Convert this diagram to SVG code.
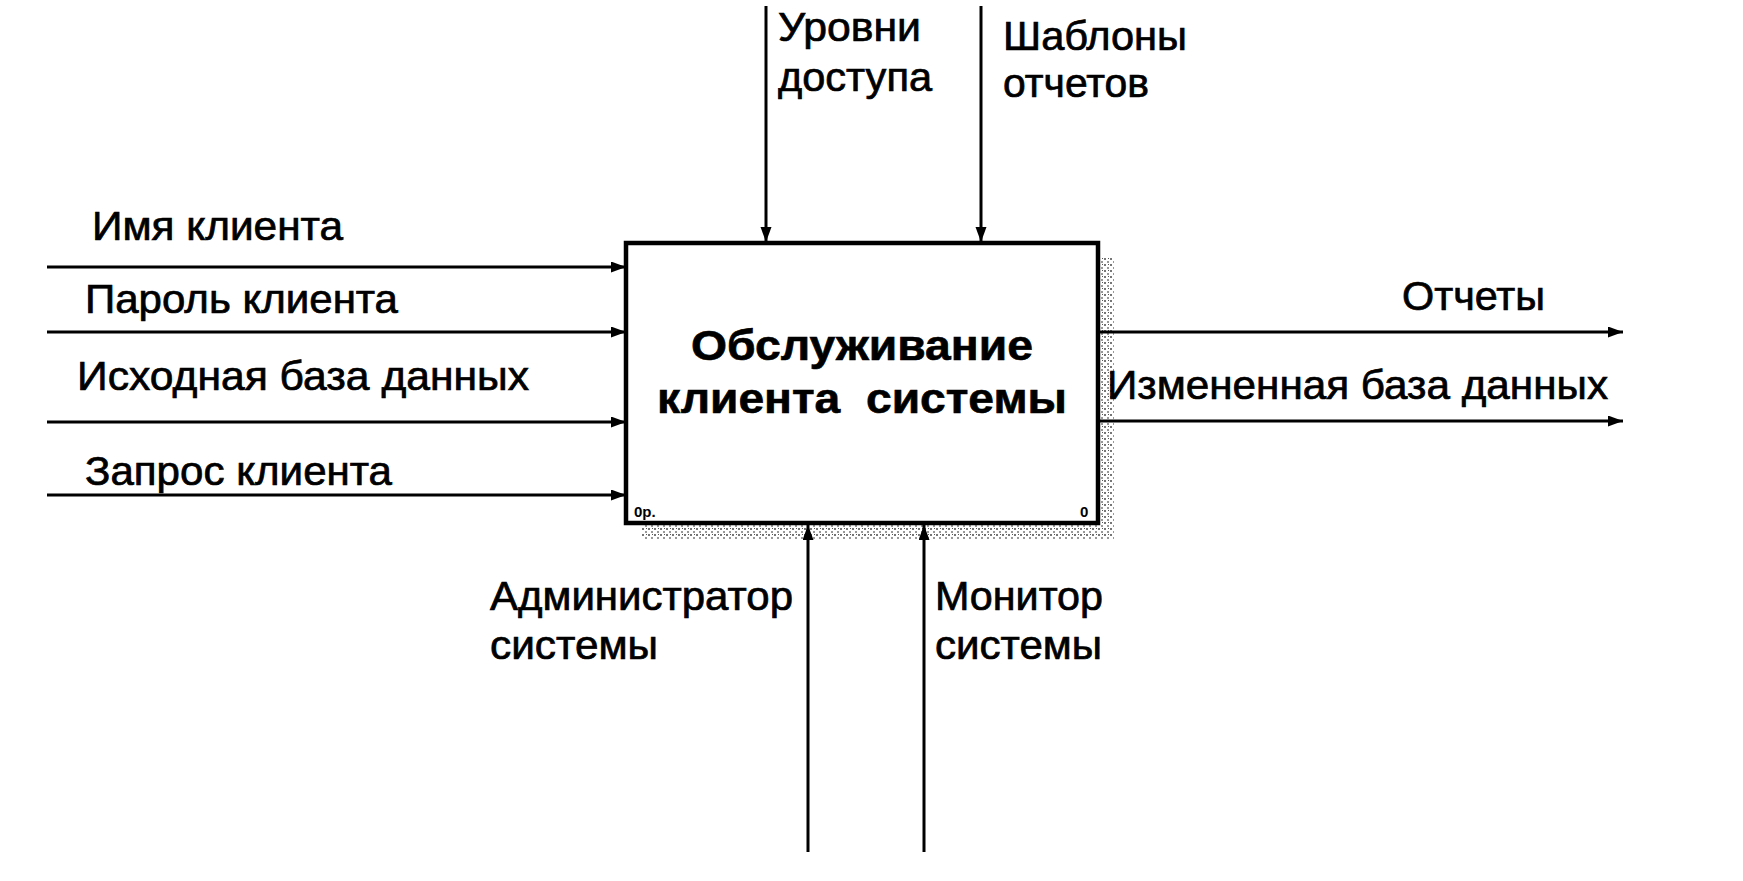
<svg xmlns="http://www.w3.org/2000/svg" width="1743" height="881" viewBox="0 0 1743 881">
<style>
.lbl{font-family:"Liberation Sans",Arial,sans-serif;font-size:40px;fill:#000;stroke:#000;stroke-width:0.7px;}
.title{font-family:"Liberation Sans",Arial,sans-serif;font-size:42px;font-weight:bold;fill:#000;stroke:#000;stroke-width:0.6px;}
.small{font-family:"Liberation Sans",Arial,sans-serif;font-size:15px;font-weight:bold;fill:#000;}
.arc{stroke:#000;stroke-width:3;fill:none;marker-end:url(#ah);}
</style>
<defs>
<marker id="ah" markerUnits="userSpaceOnUse" markerWidth="16" markerHeight="12" refX="15" refY="5.5" orient="auto">
<path d="M0,0 L15,5.5 L0,11 z" fill="#000"/>
</marker>
<pattern id="speck" width="6" height="6" patternUnits="userSpaceOnUse">
<rect x="0" y="0" width="2" height="2" fill="#777"/>
<rect x="3" y="3" width="2" height="2" fill="#999"/>
<rect x="4" y="0" width="1" height="1" fill="#555"/>
</pattern>
</defs>
<rect width="1743" height="881" fill="#fff"/>
<g id="node-main">
<rect x="641" y="257" width="473" height="282" fill="url(#speck)"/>
<rect x="626" y="243" width="472" height="280" fill="#fff" stroke="#000" stroke-width="4.5"/>
<text class="title" x="862" y="360" text-anchor="middle" textLength="342" lengthAdjust="spacingAndGlyphs">Обслуживание</text>
<text class="title" x="862" y="413" text-anchor="middle" textLength="410" lengthAdjust="spacingAndGlyphs" xml:space="preserve">клиента  системы</text>
<text class="small" x="634" y="517">0р.</text>
<text class="small" x="1080" y="517">0</text>
</g>
<g id="connectors">
<line class="arc" x1="47" y1="267" x2="626" y2="267"/>
<line class="arc" x1="47" y1="332" x2="626" y2="332"/>
<line class="arc" x1="47" y1="422" x2="626" y2="422"/>
<line class="arc" x1="47" y1="495" x2="626" y2="495"/>
<line class="arc" x1="766" y1="6" x2="766" y2="242"/>
<line class="arc" x1="981" y1="6" x2="981" y2="242"/>
<line class="arc" x1="1100" y1="332" x2="1623" y2="332"/>
<line class="arc" x1="1100" y1="421" x2="1623" y2="421"/>
<line class="arc" x1="808" y1="852" x2="808" y2="525"/>
<line class="arc" x1="924" y1="852" x2="924" y2="525"/>
</g>
<g id="labels">
<text class="lbl" x="92" y="240" textLength="251" lengthAdjust="spacingAndGlyphs">Имя клиента</text>
<text class="lbl" x="85" y="313" textLength="313" lengthAdjust="spacingAndGlyphs">Пароль клиента</text>
<text class="lbl" x="77" y="390" textLength="452" lengthAdjust="spacingAndGlyphs">Исходная база данных</text>
<text class="lbl" x="85" y="485" textLength="307" lengthAdjust="spacingAndGlyphs">Запрос клиента</text>
<text class="lbl" x="778" y="41" textLength="143" lengthAdjust="spacingAndGlyphs">Уровни</text>
<text class="lbl" x="778" y="91" textLength="154" lengthAdjust="spacingAndGlyphs">доступа</text>
<text class="lbl" x="1003" y="50" textLength="184" lengthAdjust="spacingAndGlyphs">Шаблоны</text>
<text class="lbl" x="1003" y="97" textLength="146" lengthAdjust="spacingAndGlyphs">отчетов</text>
<text class="lbl" x="1402" y="310" textLength="143" lengthAdjust="spacingAndGlyphs">Отчеты</text>
<text class="lbl" x="1107" y="399" textLength="501" lengthAdjust="spacingAndGlyphs">Измененная база данных</text>
<text class="lbl" x="490" y="610" textLength="303" lengthAdjust="spacingAndGlyphs">Администратор</text>
<text class="lbl" x="490" y="659" textLength="168" lengthAdjust="spacingAndGlyphs">системы</text>
<text class="lbl" x="935" y="610" textLength="168" lengthAdjust="spacingAndGlyphs">Монитор</text>
<text class="lbl" x="935" y="659" textLength="167" lengthAdjust="spacingAndGlyphs">системы</text>
</g>
</svg>
